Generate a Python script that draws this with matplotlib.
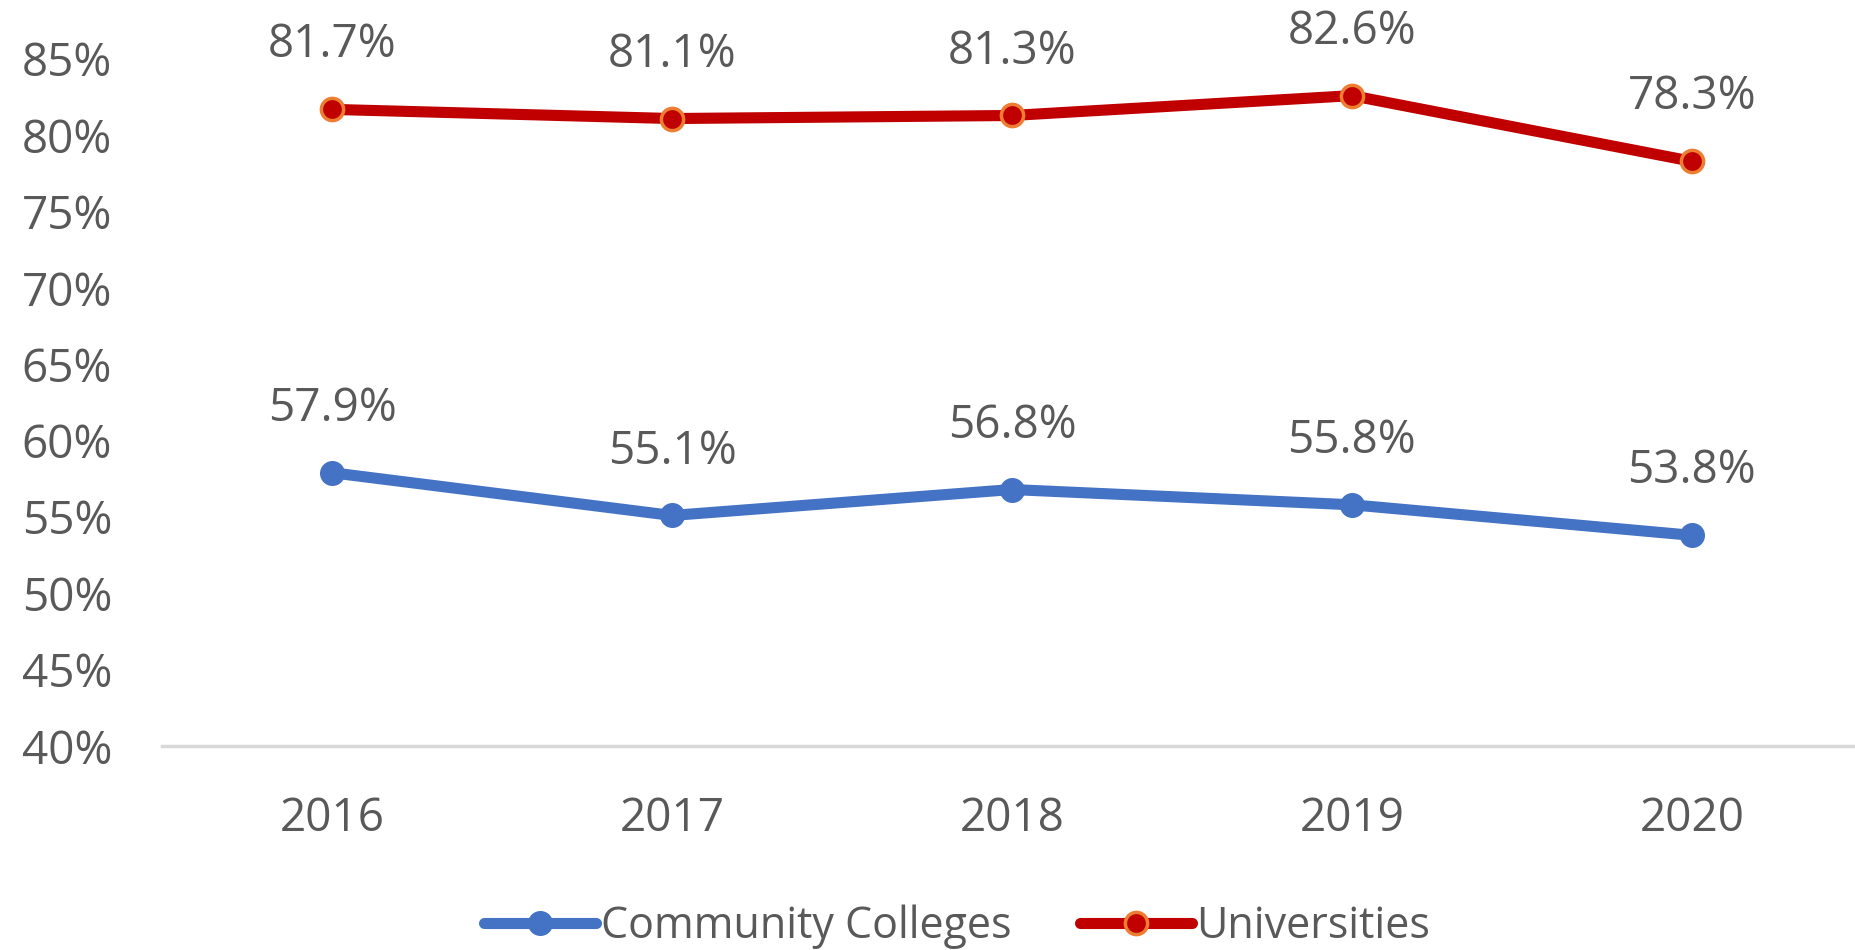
import matplotlib
matplotlib.use("Agg")
import matplotlib.pyplot as plt
from matplotlib.ticker import FuncFormatter

years = ["2016", "2017", "2018", "2019", "2020"]
community_colleges = [57.9, 55.1, 56.8, 55.8, 53.8]
universities = [81.7, 81.1, 81.3, 82.6, 78.3]
y_ticks = [40, 45, 50, 55, 60, 65, 70, 75, 80, 85]

plt.rcParams['font.family'] = ['Open Sans', 'DejaVu Sans']
TXT = '#595959'
FS = 33

fig = plt.figure(figsize=(18.55, 9.5), dpi=100)
ax = fig.add_axes([162/1855, 204/950, 1 - 162/1855, (746-59)/950])

x = list(range(len(years)))
ax.plot(x, community_colleges, color='#4472C4', lw=8, marker='o', ms=16,
        mfc='#4472C4', mec='#4472C4', mew=2, solid_capstyle='round',
        label='Community Colleges', clip_on=False, zorder=3)
ax.plot(x, universities, color='#C00000', lw=8, marker='o', ms=16,
        mfc='#C00000', mec='#ED7D31', mew=2.5, solid_capstyle='round',
        label='Universities', clip_on=False, zorder=3)

for xi, v in zip(x, community_colleges):
    ax.annotate(f"{v:.1f}%", (xi, v), xytext=(0, 46), textcoords='offset points',
                ha='center', va='center', fontsize=FS, color=TXT, annotation_clip=False)
for xi, v in zip(x, universities):
    ax.annotate(f"{v:.1f}%", (xi, v), xytext=(0, 46), textcoords='offset points',
                ha='center', va='center', fontsize=FS, color=TXT, annotation_clip=False)

ax.set_xlim(-0.5, 4.48)
ax.set_ylim(40, 85)
ax.set_yticks(y_ticks)
ax.yaxis.set_major_formatter(FuncFormatter(lambda v, p: f"{v:.0f}%"))
ax.set_xticks(x)
ax.set_xticklabels(years)
ax.tick_params(axis='both', length=0, labelsize=FS, labelcolor=TXT)
ax.tick_params(axis='x', pad=36)
ax.tick_params(axis='y', pad=36)

for s in ['top', 'right', 'left']:
    ax.spines[s].set_visible(False)
ax.spines['bottom'].set_color('#D9D9D9')
ax.spines['bottom'].set_linewidth(2.5)

leg = fig.legend(loc='center', bbox_to_anchor=(0.516, 23/950), ncol=2, frameon=False,
                 fontsize=31, labelcolor=TXT, handlelength=2.6, handletextpad=0.1,
                 columnspacing=1.6)

fig.savefig('out.png', dpi=100)
